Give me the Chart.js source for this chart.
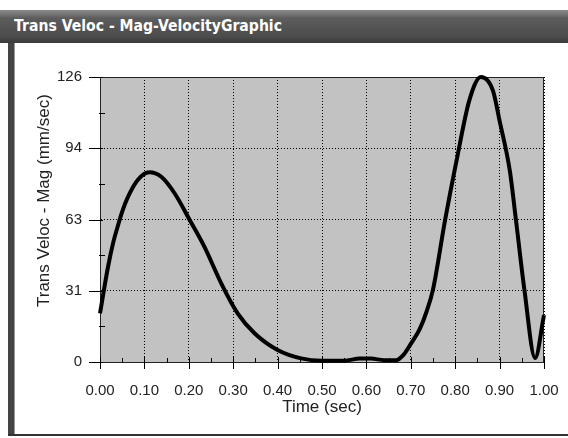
<!DOCTYPE html>
<html>
<head>
<meta charset="utf-8">
<script src="https://cdn.jsdelivr.net/npm/chart.js@4/dist/chart.umd.min.js"></script>
<style>
  body { margin: 0; width: 568px; height: 438px; position: relative; background: #fff; overflow: hidden; }
  #bar { position: absolute; left: 0; top: 10px; width: 568px; height: 33px;
         background: linear-gradient(#8c8c8c, #5c5c5c 25%, #4c4c4c 80%, #3a3a3a); }
  #ttl { position: absolute; left: 14px; top: 7px; color: #fff; font: bold 15px "DejaVu Sans", sans-serif;
         white-space: nowrap; transform-origin: left center; }
  #lside { position: absolute; left: 8px; top: 43px; width: 6px; height: 393px; background: #444;
           border-right: 1px solid #999; }
  #bottom { position: absolute; left: 8px; top: 434px; width: 560px; height: 2px; background: #333; }
  #c { position: absolute; left: 0; top: 0; }
</style>
</head>
<body>
<div id="bar"><span id="ttl">Trans Veloc - Mag-VelocityGraphic</span></div>
<div id="lside"></div>
<div id="bottom"></div>
<canvas id="c" width="568" height="438"></canvas>
<script>
const times = [0, 0.018, 0.03, 0.04, 0.05, 0.063, 0.085, 0.111, 0.138, 0.168, 0.202, 0.235, 0.273, 0.31, 0.348,
  0.40, 0.453, 0.50, 0.55, 0.585, 0.61, 0.64, 0.667, 0.685, 0.70, 0.72, 0.735, 0.75, 0.777, 0.803, 0.832,
  0.858, 0.885, 0.90, 0.923, 0.937, 0.956, 0.98, 1.0]
const velocity = [21.5, 42, 53, 60, 66.5, 73, 80.5, 83.9, 81.9, 74.6, 62.8, 51, 34.8, 21.5, 12.7,
  5.3, 1.6, 0.6, 0.6, 1.5, 1.5, 0.8, 0.8, 3.5, 8, 14.5, 22, 32, 62.5, 89, 115.8,
  126, 120, 106.6, 84.6, 62.5, 31.7, 1.8, 20.7]
const yMax = 126
const yStep = 31.5
const xStep = 0.1

// scale title fit to the original bar text width
const ttl = document.getElementById('ttl')
ttl.style.transform = `scaleX(${268 / ttl.getBoundingClientRect().width})`

const font = { family: '"Liberation Sans", Arial, sans-serif', size: 15 }
const titleFont = { family: '"Liberation Sans", Arial, sans-serif', size: 17 }

const plotFrame = {
  id: 'plotFrame',
  beforeDraw(chart) {
    const { ctx, chartArea: a } = chart
    ctx.save()
    ctx.fillStyle = '#c2c2c2'
    ctx.fillRect(a.left, a.top, a.right - a.left, a.bottom - a.top)
    ctx.restore()
  },
  beforeDatasetsDraw(chart) {
    const { ctx, chartArea: a, scales } = chart
    ctx.save()
    ctx.strokeStyle = '#222'
    ctx.lineWidth = 1
    ctx.strokeRect(a.left + 0.5, a.top + 0.5, a.right - a.left - 1, a.bottom - a.top)
    ctx.strokeStyle = '#000'
    ctx.beginPath()
    // x ticks, major cross the axis, minor go inward
    const xt = scales.x.ticks
    xt.forEach((t, i) => {
      const px = Math.round(scales.x.getPixelForValue(t.value)) + 0.5
      ctx.moveTo(px, a.bottom - 5); ctx.lineTo(px, a.bottom + 7)
      if (i < xt.length - 1) {
        const mx = Math.round(scales.x.getPixelForValue(t.value + xStep / 2)) + 0.5
        ctx.moveTo(mx, a.bottom - 4); ctx.lineTo(mx, a.bottom + 1)
      }
    })
    const yt = scales.y.ticks
    yt.forEach((t, i) => {
      const py = Math.round(scales.y.getPixelForValue(t.value)) + 0.5
      ctx.moveTo(a.left - 11, py); ctx.lineTo(a.left + 3, py)
      if (i < yt.length - 1) {
        const my = Math.round(scales.y.getPixelForValue(t.value + yStep / 2)) + 0.5
        ctx.moveTo(a.left - 1, my); ctx.lineTo(a.left + 5, my)
      }
    })
    ctx.stroke()
    ctx.restore()
  }
}

new Chart(document.getElementById('c'), {
  type: 'line',
  data: {
    datasets: [{
      data: times.map((t, i) => ({ x: t, y: velocity[i] })),
      borderColor: '#000',
      borderWidth: 4,
      pointRadius: 0,
      cubicInterpolationMode: 'monotone',
      clip: false
    }]
  },
  options: {
    responsive: false,
    animation: false,
    layout: { padding: { left: 10, top: 77, right: 24, bottom: 16 } },
    plugins: { legend: { display: false }, tooltip: { enabled: false } },
    scales: {
      x: {
        type: 'linear', min: 0, max: 1,
        afterFit: (s) => { s.height = 60 },
        ticks: { stepSize: xStep, padding: 4, color: '#222', font, callback: (v) => v.toFixed(2) },
        grid: { color: '#000', tickColor: 'rgba(0,0,0,0)', tickLength: 16 },
        border: { color: '#000', dash: [1, 2] },
        title: { display: true, text: 'Time (sec)', color: '#222', font: titleFont, padding: { bottom: 4 } }
      },
      y: {
        min: 0, max: yMax,
        afterFit: (s) => { s.width = 90 },
        ticks: { stepSize: yStep, padding: 18, color: '#222', font, callback: (v) => Math.floor(v) },
        grid: { color: '#000', drawTicks: false },
        border: { color: '#000', dash: [1, 2] },
        // leading spaces lift the text the way the original sits on its axis
        title: { display: true, text: '        Trans Veloc - Mag (mm/sec)', color: '#222', font: titleFont, padding: { top: 24 } }
      }
    }
  },
  plugins: [plotFrame]
})
</script>
</body>
</html>
